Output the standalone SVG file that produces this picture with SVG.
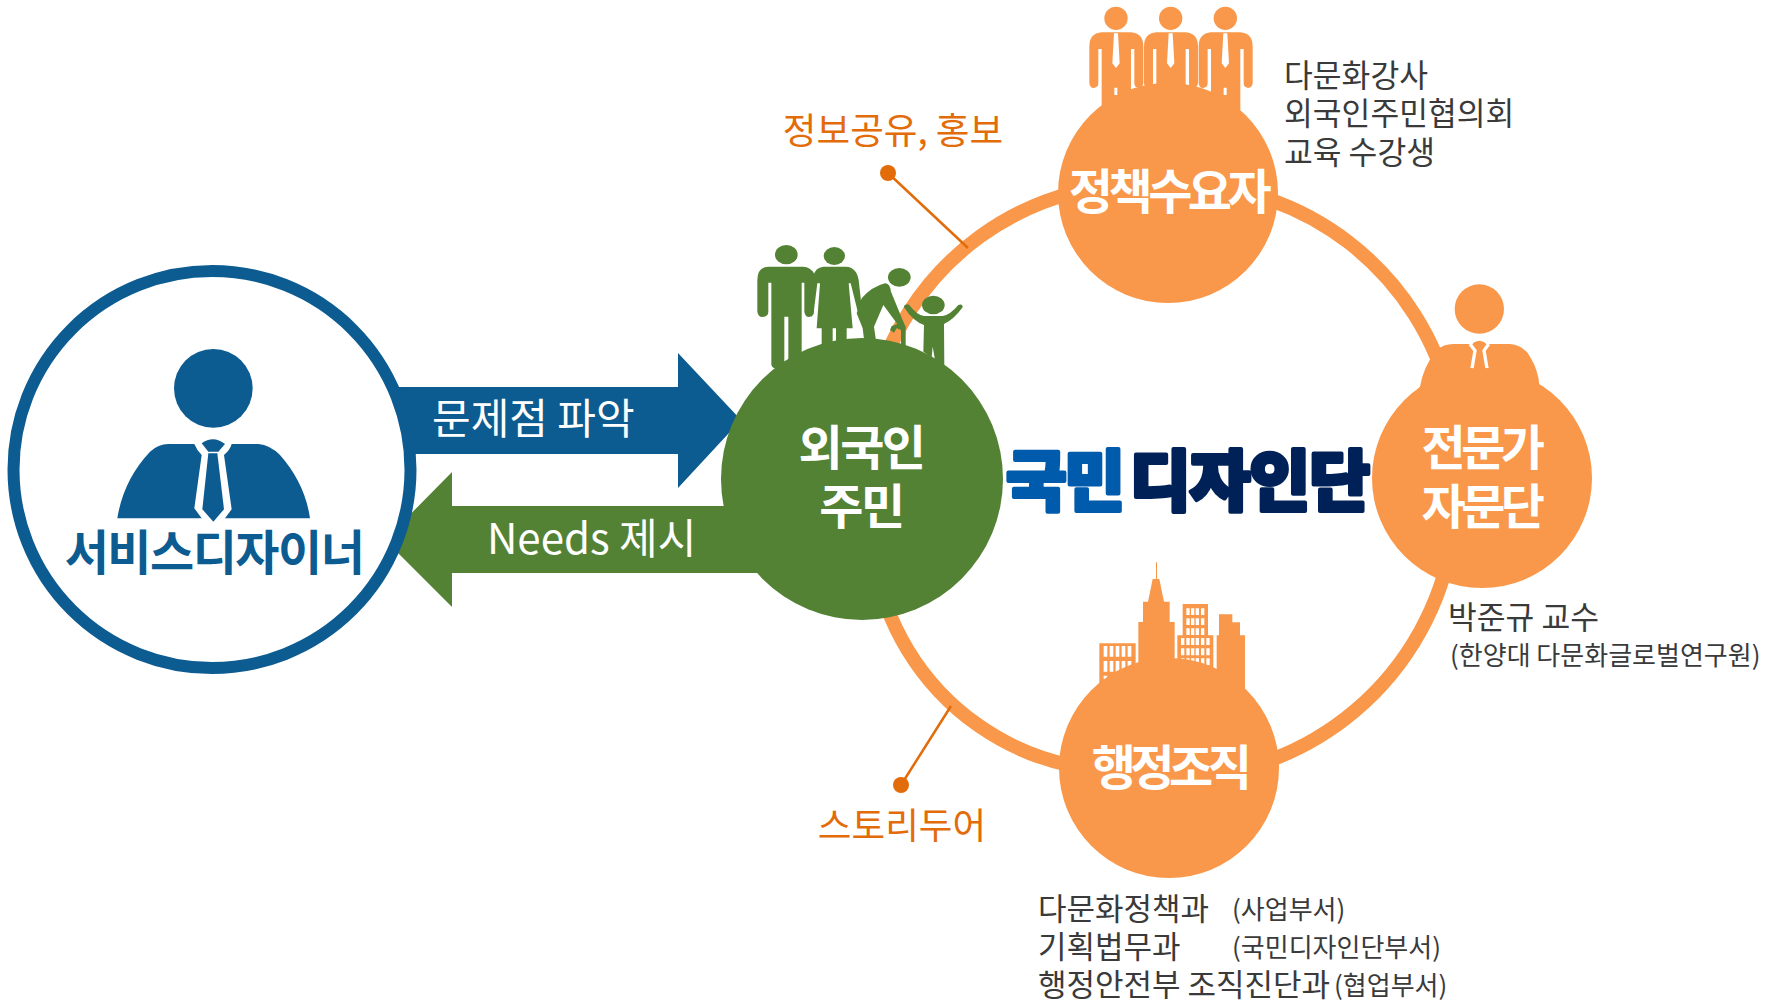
<svg xmlns="http://www.w3.org/2000/svg" width="1779" height="1002" viewBox="0 0 1779 1002">
<style>
text{font-family:"Noto Sans CJK KR","Noto Sans",sans-serif}
.t{font-size:31.3px;fill:#3a3a3a}
.s{font-size:26px;fill:#3a3a3a}
.o{font-size:36.6px;fill:#E36C0A}
.w{font-size:42px;fill:#fff}
.b{font-size:48px;font-weight:700;fill:#fff;text-anchor:middle;letter-spacing:-4.5px}
.or{fill:#F9984A}
.gr{fill:#548235}
.bl{fill:#0C5B91}
.wh{fill:#fff}
.logo{font-size:66px;font-weight:900;stroke-width:4;stroke-linejoin:round}
</style>
<defs>
<g id="suit">
<path class="or" d="M95,97H183Q220,100 220,140V250Q218,264 206,264Q193,262 193,250V147H183V330H95V147H85V250Q85,262 72,264Q60,265 58,250V140Q58,100 95,97Z"/>
<circle class="or" cx="138" cy="55" r="35"/>
<path class="wh" d="M132,100H144L149,190L138,204L127,190ZM133,263H142V285H133Z"/>
</g>
</defs>
<g id="connectors">
<g fill="none" stroke="#F9984A" stroke-width="14">
<path d="M1170,185.4A276,276 0 0 0 872.6,400"/>
<path d="M1170,766.6A252,252 0 0 1 874.4,560"/>
<path d="M1170,184A281,281 0 0 1 1450.5,400"/>
<path d="M1452,540A284.5,284.5 0 0 1 1170,778"/>
</g>
<path d="M888,173L968,248M901,785L951,706" fill="none" stroke="#E36C0A" stroke-width="2.5"/>
<circle cx="888" cy="173" r="8" fill="#E36C0A"/>
<circle cx="901" cy="785" r="8" fill="#E36C0A"/>
<path class="bl" d="M380,387H678V353L741,420L678,488V454H380Z"/>
<path class="gr" d="M800,506H452V472L385,540L452,607V573H800Z"/>
<text class="w" x="432" y="434">문제점 파악</text>
<text class="w" x="487" y="554">Needs 제시</text>
</g>
<g id="designer">
<circle cx="212" cy="469.500" r="198.500" fill="#fff" stroke="#0C5B91" stroke-width="12"/>
<g transform="translate(0,250) scale(.33333)" class="bl">
<circle cx="640" cy="415" r="118"/>
<path d="M352,805Q370,690 450,605Q475,582 505,582H583Q590,600 605,615L583,775L605,805Z"/>
<path d="M695,582H775Q810,585 840,615Q915,700 930,805H675L695,778L672,615Q690,600 695,582Z"/>
<path d="M605,580Q640,555 675,582L655,605H625Z"/>
<path d="M625,610H652L672,778L640,815L607,778Z"/>
</g>
<text x="214" y="570" text-anchor="middle" font-size="48" font-weight="700" letter-spacing="-1.5" fill="#0C5B91">서비스디자이너</text>
</g>
<g id="residents">
<g transform="translate(740,220) scale(.33333)" class="gr">
<ellipse cx="139" cy="104" rx="34" ry="29"/>
<path d="M85,140Q52,142 52,180V275Q55,292 68,291Q85,290 85,275V188H94V435Q100,450 120,445L133,430V290H145V425L185,400V188H193V275Q196,292 208,291Q222,288 222,275V160Q210,140 190,140Z"/>
<ellipse cx="283" cy="108" rx="32" ry="27"/>
<path d="M250,140H318Q350,142 356,180L366,270L360,285L352,270L332,190H326L338,325H320V365H288V325H278V368L245,378V325H230L240,190H232L222,270L215,290L205,280L220,170Q225,142 250,140Z"/>
<ellipse cx="478" cy="172" rx="34" ry="28"/>
<path d="M365,235Q395,200 435,190Q450,190 453,215L490,305L497,320V378L483,375V330L470,325L462,338L450,330L455,318L472,312L430,255L402,320L408,362L372,358L368,325L350,280Z"/>
<ellipse cx="580" cy="255" rx="34" ry="28"/>
<path d="M492,258Q500,250 508,255Q530,285 552,288H608Q630,285 655,255Q668,250 668,262Q640,300 612,312L613,440L585,420L578,380L575,412L550,395L552,315Q520,305 492,262Z"/>
</g>
<circle class="gr" cx="862" cy="479" r="141"/>
<text class="b" style="letter-spacing:-2.5px" x="861" y="465">외국인</text>
<text class="b" style="letter-spacing:-2.5px" x="861" y="524">주민</text>
</g>
<g id="policy">
<g transform="translate(1070,0) scale(.33333)">
<use href="#suit"/>
<use href="#suit" x="164"/>
<use href="#suit" x="328"/>
</g>
<circle class="or" cx="1168" cy="193" r="110"/>
<text class="b" x="1168" y="209">정책수요자</text>
<text class="t" x="1284" y="87">다문화강사</text>
<text class="t" x="1284" y="125">외국인주민협의회</text>
<text class="t" x="1284" y="164">교육 수강생</text>
</g>
<g id="expert">
<g transform="translate(1400,270) scale(.33333)">
<circle class="or" cx="238" cy="117" r="74"/>
<path class="or" d="M60,350Q70,290 110,240Q130,222 160,222H330Q370,225 390,260Q415,300 418,345L470,390H20Z"/>
<path d="M210,222L225,242L216,295M266,222L252,242L261,295" fill="none" stroke="#fff" stroke-width="10"/>
<path class="or" d="M218,220Q238,205 258,220L243,236H233Z"/>
</g>
<circle class="or" cx="1482" cy="478" r="110"/>
<text class="b" x="1481" y="465">전문가</text>
<text class="b" x="1481" y="524">자문단</text>
<text class="t" x="1448" y="629">박준규 교수</text>
<text class="s" x="1450" y="665">(한양대 다문화글로벌연구원)</text>
</g>
<g id="admin">
<g transform="translate(1080,550) scale(.33333)">
<path class="or" d="M58,280H167V430H58ZM228,37H231V87H238L252,155H269V216H284V360H175V216H189V155H204L218,87H228ZM308,162H384V256H400V380H292V256H308ZM417,193H457V217H480V256H495V430H410V256H417Z"/>
<path class="wh" d="M71,288h11v32h-11zM89,288h11v32h-11zM107,288h11v32h-11zM125,288h11v32h-11zM143,288h11v32h-11zM71,333h11v32h-11zM89,333h11v32h-11zM107,333h11v32h-11zM125,333h11v32h-11zM143,333h11v32h-11zM71,377h11v10h-11z"/>
<path class="wh" d="M319,175h10v20h-10zM333,175h10v20h-10zM347,175h10v20h-10zM363,175h10v20h-10zM319,205h10v20h-10zM333,205h10v20h-10zM347,205h10v20h-10zM363,205h10v20h-10zM319,235h10v20h-10zM333,235h10v20h-10zM347,235h10v20h-10zM363,235h10v20h-10z"/>
<path class="wh" d="M303,264h10v21h-10zM319,264h10v21h-10zM333,264h10v21h-10zM347,264h10v21h-10zM363,264h10v21h-10zM379,264h10v21h-10zM303,295h10v21h-10zM319,295h10v21h-10zM333,295h10v21h-10zM347,295h10v21h-10zM363,295h10v21h-10zM379,295h10v21h-10zM303,325h10v21h-10zM319,325h10v21h-10zM333,325h10v21h-10zM347,325h10v21h-10zM363,325h10v21h-10zM379,325h10v21h-10z"/>
</g>
<circle class="or" cx="1169" cy="768" r="110"/>
<text class="b" style="letter-spacing:-5.500px" x="1169" y="785">행정조직</text>
<text class="t" x="1038" y="920" style="font-size:31px">다문화정책과</text>
<text class="s" x="1232" y="919">(사업부서)</text>
<text class="t" x="1038" y="958" style="font-size:31px">기획법무과</text>
<text class="s" x="1232" y="957">(국민디자인단부서)</text>
<text class="t" x="1038" y="996" style="font-size:31px">행정안전부 조직진단과</text>
<text class="s" x="1334" y="995">(협업부서)</text>
</g>
<g id="outreach-labels">
<text class="o" x="893" y="144" text-anchor="middle">정보공유, 홍보</text>
<text class="o" x="902" y="839" text-anchor="middle">스토리두어</text>
</g>
<g id="logo">
<text class="logo" x="1006" y="505" fill="#005BAC" stroke="#005BAC" textLength="119">국민</text>
<text class="logo" x="1130" y="505" fill="#002157" stroke="#002157" textLength="240">디자인단</text>
</g>
</svg>
